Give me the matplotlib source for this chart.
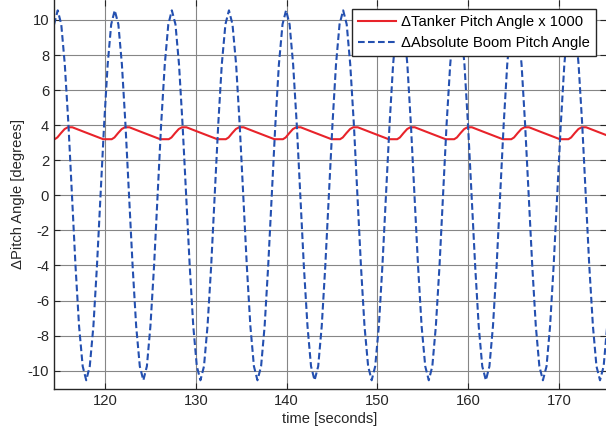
import matplotlib
matplotlib.use('Agg')
import matplotlib.pyplot as plt

plt.rcParams['font.family'] = ['Liberation Sans', 'DejaVu Sans']
plt.rcParams['axes.unicode_minus'] = False

# Absolute boom pitch angle (deg)
boom_t = [
    114.00, 114.39, 114.79, 115.18, 115.57, 115.97, 116.36, 116.75, 117.14, 117.54, 117.93, 118.32, 118.72, 119.11, 119.50, 119.90,
    120.29, 120.68, 121.07, 121.47, 121.86, 122.25, 122.65, 123.04, 123.43, 123.83, 124.22, 124.61, 125.00, 125.40, 125.79, 126.18,
    126.58, 126.97, 127.36, 127.76, 128.15, 128.54, 128.93, 129.33, 129.72, 130.11, 130.51, 130.90, 131.29, 131.69, 132.08, 132.47,
    132.86, 133.26, 133.65, 134.04, 134.44, 134.83, 135.22, 135.62, 136.01, 136.40, 136.79, 137.19, 137.58, 137.97, 138.37, 138.76,
    139.15, 139.55, 139.94, 140.33, 140.72, 141.12, 141.51, 141.90, 142.30, 142.69, 143.08, 143.48, 143.87, 144.26, 144.65, 145.05,
    145.44, 145.83, 146.23, 146.62, 147.01, 147.41, 147.80, 148.19, 148.58, 148.98, 149.37, 149.76, 150.16, 150.55, 150.94, 151.34,
    151.73, 152.12, 152.51, 152.91, 153.30, 153.69, 154.09, 154.48, 154.87, 155.27, 155.66, 156.05, 156.44, 156.84, 157.23, 157.62,
    158.02, 158.41, 158.80, 159.20, 159.59, 159.98, 160.37, 160.77, 161.16, 161.55, 161.95, 162.34, 162.73, 163.13, 163.52, 163.91,
    164.30, 164.70, 165.09, 165.48, 165.88, 166.27, 166.66, 167.06, 167.45, 167.84, 168.23, 168.63, 169.02, 169.41, 169.81, 170.20,
    170.59, 170.99, 171.38, 171.77, 172.16, 172.56, 172.95, 173.34, 173.74, 174.13, 174.52, 174.92, 175.31, 175.70,
]
boom_pitch = [
    7.46, 9.75, 10.55, 9.75, 7.46, 4.04, 0.0, -4.04, -7.46, -9.75, -10.55, -9.75, -7.46, -4.04, 0.0, 4.04,
    7.46, 9.75, 10.55, 9.75, 7.46, 4.04, 0.0, -4.04, -7.46, -9.75, -10.55, -9.75, -7.46, -4.04, 0.0, 4.04,
    7.46, 9.75, 10.55, 9.75, 7.46, 4.04, 0.0, -4.04, -7.46, -9.75, -10.55, -9.75, -7.46, -4.04, 0.0, 4.04,
    7.46, 9.75, 10.55, 9.75, 7.46, 4.04, 0.0, -4.04, -7.46, -9.75, -10.55, -9.75, -7.46, -4.04, 0.0, 4.04,
    7.46, 9.75, 10.55, 9.75, 7.46, 4.04, 0.0, -4.04, -7.46, -9.75, -10.55, -9.75, -7.46, -4.04, 0.0, 4.04,
    7.46, 9.75, 10.55, 9.75, 7.46, 4.04, 0.0, -4.04, -7.46, -9.75, -10.55, -9.75, -7.46, -4.04, 0.0, 4.04,
    7.46, 9.75, 10.55, 9.75, 7.46, 4.04, 0.0, -4.04, -7.46, -9.75, -10.55, -9.75, -7.46, -4.04, 0.0, 4.04,
    7.46, 9.75, 10.55, 9.75, 7.46, 4.04, 0.0, -4.04, -7.46, -9.75, -10.55, -9.75, -7.46, -4.04, 0.0, 4.04,
    7.46, 9.75, 10.55, 9.75, 7.46, 4.04, 0.0, -4.04, -7.46, -9.75, -10.55, -9.75, -7.46, -4.04, 0.0, 4.04,
    7.46, 9.75, 10.55, 9.75, 7.46, 4.04, 0.0, -4.04, -7.46, -9.75, -10.55, -9.75, -7.46, -4.04,
]

# delta tanker pitch angle x 1000
tanker_t = [
    114.00, 114.45, 114.75, 115.15, 115.55,
    115.90, 116.40, 117.64, 119.80, 120.74, 121.04, 121.44, 121.84,
    122.18, 122.68, 123.92, 126.08, 127.02, 127.32, 127.72, 128.12,
    128.47, 128.97, 130.21, 132.37, 133.31, 133.61, 134.01, 134.41,
    134.76, 135.26, 136.50, 138.66, 139.60, 139.90, 140.30, 140.70,
    141.05, 141.55, 142.79, 144.95, 145.89, 146.19, 146.59, 146.99,
    147.34, 147.84, 149.08, 151.24, 152.18, 152.48, 152.88, 153.28,
    153.62, 154.12, 155.36, 157.52, 158.46, 158.76, 159.16, 159.56,
    159.91, 160.41, 161.65, 163.81, 164.75, 165.05, 165.45, 165.85,
    166.20, 166.70, 167.94, 170.10, 171.04, 171.34, 171.74, 172.14,
    172.49, 172.99, 174.23, 176.39,
]
tanker_pitch = [
    3.20, 3.20, 3.30, 3.55, 3.78,
    3.88, 3.88, 3.63, 3.20, 3.20, 3.30, 3.55, 3.78,
    3.88, 3.88, 3.63, 3.20, 3.20, 3.30, 3.55, 3.78,
    3.88, 3.88, 3.63, 3.20, 3.20, 3.30, 3.55, 3.78,
    3.88, 3.88, 3.63, 3.20, 3.20, 3.30, 3.55, 3.78,
    3.88, 3.88, 3.63, 3.20, 3.20, 3.30, 3.55, 3.78,
    3.88, 3.88, 3.63, 3.20, 3.20, 3.30, 3.55, 3.78,
    3.88, 3.88, 3.63, 3.20, 3.20, 3.30, 3.55, 3.78,
    3.88, 3.88, 3.63, 3.20, 3.20, 3.30, 3.55, 3.78,
    3.88, 3.88, 3.63, 3.20, 3.20, 3.30, 3.55, 3.78,
    3.88, 3.88, 3.63, 3.20,
]

x_ticks = [120, 130, 140, 150, 160, 170]
y_ticks = [-10, -8, -6, -4, -2, 0, 2, 4, 6, 8, 10]

fig = plt.figure(figsize=(6.06, 4.30), dpi=100)
ax = fig.add_axes([54 / 606, 41.3 / 430, 552 / 606, 388.7 / 430])

ax.plot(tanker_t, tanker_pitch, color='#e8232a', lw=1.5,
        label='\u0394Tanker Pitch Angle x 1000')
ax.plot(boom_t, boom_pitch, color='#2450b0', lw=1.5, ls=(0, (3.2, 1.6)),
        label='\u0394Absolute Boom Pitch Angle')

ax.set_xlim(114.38, 175.18)
ax.set_ylim(-11.03, 11.14)
ax.set_xticks(x_ticks)
ax.set_yticks(y_ticks)
ax.grid(True, color='#868686', lw=0.8)
ax.set_axisbelow(True)
ax.tick_params(direction='in', length=4, top=True, right=True,
               labelsize=10.6, colors='#262626', width=0.8)
for s in ['top', 'right']:
    ax.spines[s].set_visible(False)
for s in ['left', 'bottom']:
    ax.spines[s].set_color('#262626')
    ax.spines[s].set_linewidth(1.0)

ax.set_xlabel('time [seconds]', fontsize=10.6, color='#262626', labelpad=3)
ax.set_ylabel('\u0394Pitch Angle [degrees]', fontsize=10.6, color='#262626', labelpad=2)

leg = ax.legend(loc='upper right', bbox_to_anchor=(0.981, 0.977), borderaxespad=0,
                fancybox=False, framealpha=1, edgecolor='#262626', fontsize=10.6,
                handlelength=2.6, handletextpad=0.3, labelspacing=0.5, borderpad=0.4)
leg.get_frame().set_linewidth(1.0)

fig.savefig('out.png', dpi=100)
